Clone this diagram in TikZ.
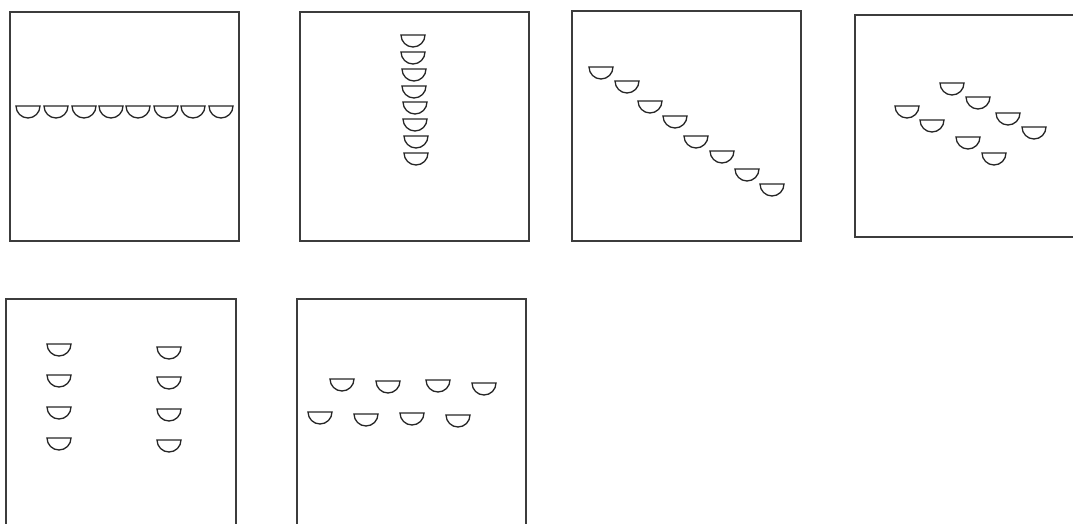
\documentclass[tikz,border=0pt]{standalone}
\usepackage{tikz}
\usetikzlibrary{positioning}
\definecolor{panelgray}{RGB}{60,60,60}
\tikzset{
  panel/.style={draw=panelgray,line width=1.3pt},
  cupline/.style={draw=black!85,line width=1.3pt,fill=white},
  cup/.pic={\draw[cupline] (-12,0) .. controls (-12,6.6) and (-6.6,12) .. (0,12)
      .. controls (6.6,12) and (12,6.6) .. (12,0) -- cycle;}
}
\begin{document}
\begin{tikzpicture}[x=1pt,y=-1pt]
  \useasboundingbox (0,0) rectangle (1073,524);
  \clip (0,0) rectangle (1073,524);
  % Row of cups
  \draw[panel] (10,12) rectangle (239,241);
  \foreach \px in {28,56,84,111,138,166,193,221}
    \pic at (\px,106) {cup};
  % Column of cups
  \draw[panel] (300,12) rectangle (529,241);
  \foreach \px/\py in {413/35,413/52,414/69,414/86,415/102,415/119,416/136,416/153}
    \pic at (\px,\py) {cup};
  % Diagonal of cups
  \draw[panel] (572,11) rectangle (801,241);
  \foreach \px/\py in {601/67,627/81,650/101,675/116,696/136,722/151,747/169,772/184}
    \pic at (\px,\py) {cup};
  % Scattered pairs
  \draw[panel] (855,15) rectangle (1084,237);
  \foreach \px/\py in {952/83,978/97,907/106,932/120,1008/113,1034/127,968/137,994/153}
    \pic at (\px,\py) {cup};
  % Two columns
  \draw[panel] (6,299) rectangle (236,528);
  \foreach \py in {344,375,407,438}
    \pic at (59,\py) {cup};
  \foreach \py in {347,377,409,440}
    \pic at (169,\py) {cup};
  % Two staggered rows
  \draw[panel] (297,299) rectangle (526,528);
  \foreach \px/\py in {342/379,388/381,438/380,484/383,320/412,366/414,412/413,458/415}
    \pic at (\px,\py) {cup};
\end{tikzpicture}
\end{document}
